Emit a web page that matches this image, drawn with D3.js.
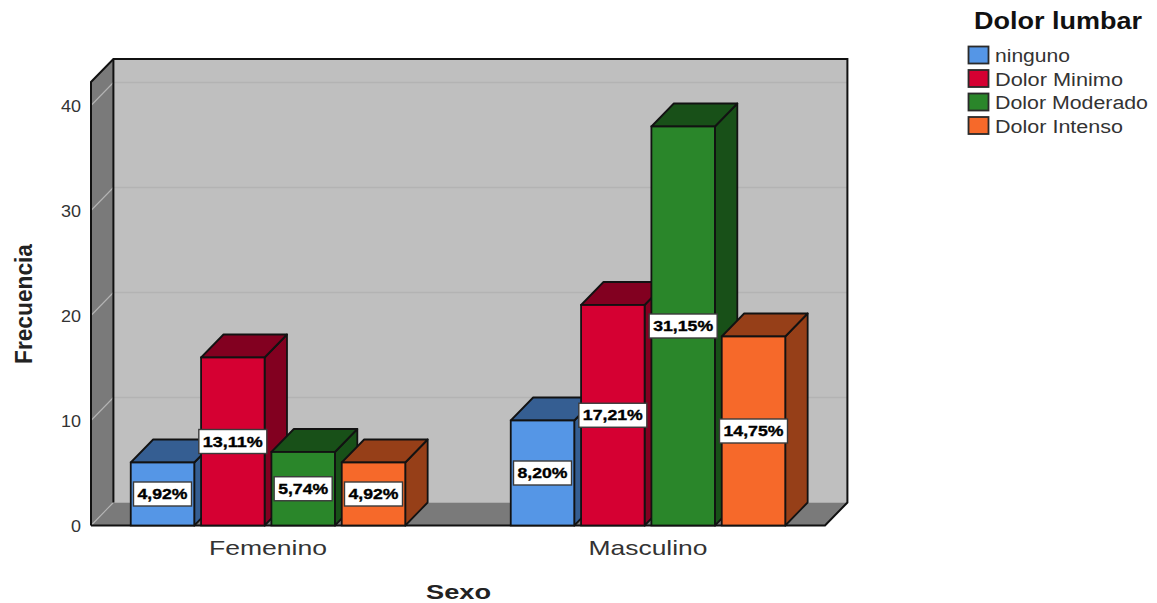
<!DOCTYPE html>
<html lang="es">
<head>
<meta charset="utf-8">
<title>Dolor lumbar por sexo</title>
<script src="https://cdn.jsdelivr.net/npm/d3@7"></script>
<style>
  html, body { margin: 0; background: #fff; }
  svg { display: block; }
  text { font-family: "Liberation Sans", Arial, sans-serif; }
</style>
</head>
<body>
<svg id="chart" width="1157" height="603"></svg>
<script>
// Frecuencias por sexo y nivel de dolor lumbar
const categories = ["Femenino", "Masculino"];
const seriesNames = ["ninguno", "Dolor Minimo", "Dolor Moderado", "Dolor Intenso"];
const femenino = [6, 16, 7, 6];
const masculino = [10, 21, 38, 18];
const femeninoPct = ["4,92%", "13,11%", "5,74%", "4,92%"];
const masculinoPct = ["8,20%", "17,21%", "31,15%", "14,75%"];
const yTicks = [0, 10, 20, 30, 40];
const frontColors = ["#5596e6", "#d50032", "#2a862a", "#f6692a"];
const sideColors = ["#355e92", "#820020", "#185018", "#963f18"];

const svg = d3.select("#chart");
const DX = 22.4, DY = 23;
const left = 91, right = 825, base = 525.5, wallTop = 59;

const y = d3.scaleLinear().domain([0, 40]).range([base, 105.5]);
const x0 = d3.scalePoint().domain(categories).range([268, 648]);
const groupWidth = 274.5;
const x1 = d3.scaleBand().domain(seriesNames).range([0, groupWidth]).paddingInner(0.097);

// Text stretched to a set width, as the export of this chart has it
function fitted(sel, length) {
  return sel.attr("textLength", length).attr("lengthAdjust", "spacingAndGlyphs");
}

const poly = pts => pts.map(p => p.join(",")).join(" ");

// Chart box: back wall, left wall and floor
const frame = svg.append("g");
const wallStroke = "#111", wallWidth = 2;
frame.append("polygon")
  .attr("points", poly([[left + DX, wallTop], [right + DX, wallTop], [right + DX, base - DY], [left + DX, base - DY]]))
  .attr("fill", "#bfbfbf");
frame.append("polygon")
  .attr("points", poly([[left, wallTop + DY], [left + DX, wallTop], [left + DX, base - DY], [left, base]]))
  .attr("fill", "#7a7a7a");
frame.append("polygon")
  .attr("points", poly([[left, base], [left + DX, base - DY], [right + DX, base - DY], [right, base]]))
  .attr("fill", "#7a7a7a");

// Grid lines run along the left wall and across the back wall
yTicks.forEach(t => {
  frame.append("polyline")
    .attr("points", poly([[left, y(t)], [left + DX, y(t) - DY]]))
    .attr("fill", "none").attr("stroke", "#b4b4b4").attr("stroke-width", 1.1);
  if (t > 0) {
    frame.append("line")
      .attr("x1", left + DX).attr("x2", right + DX)
      .attr("y1", y(t) - DY).attr("y2", y(t) - DY)
      .attr("stroke", "#b3b3b3").attr("stroke-width", 1.3);
  }
});

// Box outline
frame.append("polyline")
  .attr("points", poly([[left, base], [left, wallTop + DY], [left + DX, wallTop], [right + DX, wallTop], [right + DX, base - DY], [right, base], [left, base]]))
  .attr("fill", "none").attr("stroke", wallStroke).attr("stroke-width", wallWidth);
frame.append("line")
  .attr("x1", left + DX).attr("x2", left + DX).attr("y1", wallTop).attr("y2", base - DY)
  .attr("stroke", wallStroke).attr("stroke-width", wallWidth);

// Records joining both groups with their series
const records = categories.flatMap((c, ci) => {
  const values = ci === 0 ? femenino : masculino;
  const pct = ci === 0 ? femeninoPct : masculinoPct;
  return seriesNames.map((s, si) => ({ c, s, si, value: values[si], label: pct[si] }));
});

// Bars, left to right so each one hides the side of the previous one
const bars = svg.append("g").selectAll("g").data(records).join("g");
const xLeft = d => x0(d.c) - groupWidth / 2 + x1(d.s);
const w = x1.bandwidth();
const barStroke = "#121212", barWidth = 1.8;

bars.append("polygon")
  .attr("points", d => {
    const a = xLeft(d) + w, t = y(d.value);
    return poly([[a, t], [a + DX, t - DY], [a + DX, base - DY], [a, base]]);
  })
  .attr("fill", d => sideColors[d.si]).attr("stroke", barStroke).attr("stroke-width", barWidth).attr("stroke-linejoin", "round");
bars.append("polygon")
  .attr("points", d => {
    const a = xLeft(d), t = y(d.value);
    return poly([[a, t], [a + DX, t - DY], [a + w + DX, t - DY], [a + w, t]]);
  })
  .attr("fill", d => sideColors[d.si]).attr("stroke", barStroke).attr("stroke-width", barWidth).attr("stroke-linejoin", "round");
bars.append("rect")
  .attr("x", xLeft).attr("y", d => y(d.value))
  .attr("width", w).attr("height", d => base - y(d.value))
  .attr("fill", d => frontColors[d.si]).attr("stroke", barStroke).attr("stroke-width", barWidth);

// Percentage labels in white boxes at the middle of each bar
const labels = svg.append("g").selectAll("g").data(records).join("g")
  .attr("transform", d => `translate(${xLeft(d) + w / 2},${(y(d.value) + base) / 2})`);
labels.append("rect")
  .attr("x", d => d.label.length > 5 ? -34 : -29)
  .attr("width", d => d.label.length > 5 ? 68 : 58)
  .attr("y", -12).attr("height", 24)
  .attr("fill", "#fff").attr("stroke", "#3a3a3a").attr("stroke-width", 1.4);
labels.append("text")
  .attr("text-anchor", "middle").attr("y", 5.2)
  .attr("font-size", 15).attr("font-weight", 700).attr("fill", "#000")
  .attr("stroke", "#000").attr("stroke-width", 0.35)
  .text(d => d.label)
  .call(fitted, d => d.label.length > 5 ? 60 : 50);

// Value axis and category labels
const yAxis = svg.append("g").attr("transform", `translate(81,0)`)
  .call(d3.axisLeft(y).tickValues(yTicks).tickSize(0).tickPadding(0));
yAxis.select(".domain").remove();
yAxis.selectAll("text")
  .attr("font-size", 16).attr("font-family", "Liberation Sans").attr("fill", "#333")
  .attr("dy", "0.36em")
  .each(function (d) { d3.select(this).call(fitted, d === 0 ? 10 : 20); });

svg.append("g").selectAll("text").data(categories).join("text")
  .attr("x", d => x0(d)).attr("y", 555).attr("text-anchor", "middle")
  .attr("font-size", 21).attr("fill", "#333")
  .text(d => d)
  .each(function (d) { d3.select(this).call(fitted, d === "Femenino" ? 118 : 119); });

// Axis titles
svg.append("text").attr("x", 458.5).attr("y", 598.6)
  .attr("text-anchor", "middle").attr("font-size", 20).attr("font-weight", 700).attr("fill", "#222")
  .text("Sexo").call(fitted, 65);
svg.append("text").attr("transform", "translate(31.5,304) rotate(-90)")
  .attr("text-anchor", "middle").attr("font-size", 24).attr("font-weight", 700).attr("fill", "#222")
  .text("Frecuencia").call(fitted, 120);

// Legend
const legend = svg.append("g");
legend.append("text").attr("x", 1058).attr("y", 29)
  .attr("text-anchor", "middle").attr("font-size", 23).attr("font-weight", 700).attr("fill", "#111")
  .text("Dolor lumbar").call(fitted, 168);
const legendY = d3.scalePoint().domain(seriesNames).range([46, 116.5]);
const legendRows = legend.selectAll("g").data(seriesNames).join("g")
  .attr("transform", d => `translate(968,${legendY(d)})`);
legendRows.append("rect")
  .attr("x", 0.5).attr("y", 0.5).attr("width", 20).attr("height", 17)
  .attr("fill", (d, i) => frontColors[i]).attr("stroke", "#2a2a2a").attr("stroke-width", 1.8);
const legendWidths = [75, 128, 153, 128];
legendRows.append("text").attr("x", 27).attr("y", 16)
  .attr("font-size", 18).attr("fill", "#333")
  .text(d => d)
  .each(function (d, i) { d3.select(this).call(fitted, legendWidths[i]); });
</script>
</body>
</html>
